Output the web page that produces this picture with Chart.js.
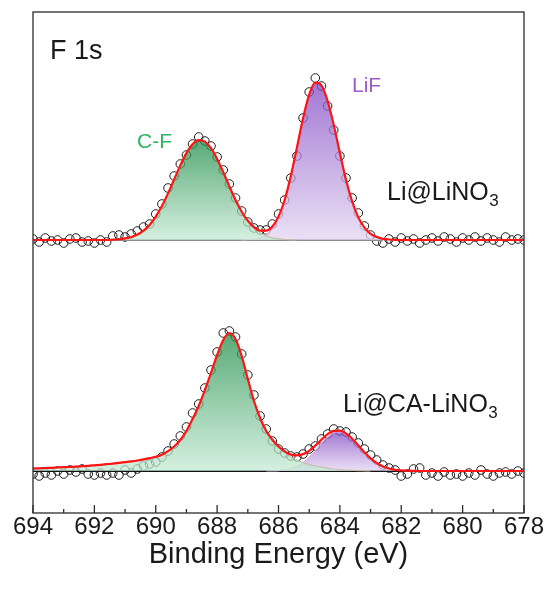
<!DOCTYPE html>
<html>
<head>
<meta charset="utf-8">
<title>F 1s XPS</title>
<script src="https://cdn.jsdelivr.net/npm/chart.js@4.4.1/dist/chart.umd.min.js"></script>
<style>
  html, body { margin: 0; padding: 0; background: #fff; }
  #wrap { width: 550px; height: 592px; position: relative; }
</style>
</head>
<body>
<div id="wrap"><canvas id="xps-chart"></canvas></div>
<script>
// Binding energy grid (eV), 0.2 eV step
const energy = [
  694, 693.8, 693.6, 693.4, 693.2, 693, 692.8, 692.6, 692.4, 692.2,
  692, 691.8, 691.6, 691.4, 691.2, 691, 690.8, 690.6, 690.4, 690.2,
  690, 689.8, 689.6, 689.4, 689.2, 689, 688.8, 688.6, 688.4, 688.2,
  688, 687.8, 687.6, 687.4, 687.2, 687, 686.8, 686.6, 686.4, 686.2,
  686, 685.8, 685.6, 685.4, 685.2, 685, 684.8, 684.6, 684.4, 684.2,
  684, 683.8, 683.6, 683.4, 683.2, 683, 682.8, 682.6, 682.4, 682.2,
  682, 681.8, 681.6, 681.4, 681.2, 681, 680.8, 680.6, 680.4, 680.2,
  680, 679.8, 679.6, 679.4, 679.2, 679, 678.8, 678.6, 678.4, 678.2,
  678
];

// Li@LiNO3 (upper spectrum), intensity above its background (a.u.)
const topRaw = [
  0.1, -0.2, 0.2, -0.1, 0.0, -0.3, 0.1, 0.2, -0.2, -0.1,
  -0.3, 0.0, -0.2, 0.4, 0.5, 0.3, 0.6, 0.9, 1.3, 1.6,
  2.6, 3.6, 5.2, 6.4, 7.6, 8.5, 9.6, 10.3, 9.9, 9.4,
  8.3, 7.0, 5.6, 4.2, 2.9, 1.8, 1.2, 1.0, 1.0, 1.6,
  2.6, 4.0, 6.2, 8.4, 12.2, 14.8, 16.2, 15.4, 13.4, 11.0,
  8.4, 6.2, 4.2, 2.7, 1.4, 0.5, -0.1, -0.3, 0.1, -0.2,
  0.2, -0.1, 0.1, -0.3, 0.0, 0.2, -0.1, 0.3, 0.1, -0.2,
  0.2, 0.0, 0.3, -0.1, 0.2, 0.0, -0.2, 0.3, 0.0, 0.1,
  0.0
];
const topFit = [
  0, 0, 0, 0, 0, 0, 0, 0, 0, 0,
  0, 0, 0, 0.04, 0.08, 0.16, 0.30, 0.54, 0.94, 1.51,
  2.33, 3.39, 4.66, 6.06, 7.46, 8.69, 9.58, 9.98, 9.84, 9.19,
  8.11, 6.77, 5.35, 4.00, 2.83, 1.92, 1.29, 0.94, 0.94, 1.36,
  2.34, 4.00, 6.37, 9.23, 12.17, 14.54, 15.73, 15.46, 13.90, 11.50,
  8.70, 6.00, 3.85, 2.26, 1.23, 0.62, 0.29, 0.12, 0.05, 0.02,
  0, 0, 0, 0, 0, 0, 0, 0, 0, 0,
  0, 0, 0, 0, 0, 0, 0, 0, 0, 0,
  0
];
// components start at the given energy and follow the grid
const topCfStart = 691.6;
const topCF = [
  0, 0.04, 0.08, 0.16, 0.30, 0.54, 0.94, 1.51, 2.33, 3.39,
  4.66, 6.06, 7.46, 8.69, 9.58, 9.98, 9.84, 9.19, 8.11, 6.77,
  5.35, 4.00, 2.83, 1.89, 1.20, 0.72, 0.41, 0.22, 0.11, 0.05,
  0.02, 0
];
const topLiFStart = 687.2;
const topLiF = [
  0, 0.03, 0.09, 0.22, 0.53, 1.14, 2.23, 3.95, 6.35, 9.23,
  12.17, 14.54, 15.73, 15.46, 13.90, 11.50, 8.70, 6.00, 3.85, 2.26,
  1.23, 0.62, 0.29, 0.12, 0.05, 0.02, 0
];
const topBgEnergy = [691.8, 682.6];
const topBgLevel = [0, 0];

// Li@CA-LiNO3 (lower spectrum)
const botRaw = [
  -0.3, -0.5, -0.2, -0.4, 0.0, -0.3, 0.1, -0.1, 0.2, -0.3,
  -0.4, -0.2, -0.4, -0.2, -0.4, 0.1, -0.2, 0.2, 0.5, 0.7,
  0.9, 1.4, 2.0, 2.7, 3.5, 4.4, 5.8, 6.7, 8.3, 10.1,
  11.9, 13.8, 14.0, 13.4, 11.7, 9.6, 7.6, 5.5, 4.2, 3.0,
  2.2, 1.8, 1.5, 1.4, 1.7, 2.2, 2.5, 3.2, 3.7, 4.2,
  4.0, 3.9, 3.4, 2.8, 2.2, 1.6, 1.1, 0.6, 0.3, 0.1,
  -0.5, -0.3, 0.2, 0.3, -0.4, -0.2, -0.5, -0.1, -0.4, -0.3,
  -0.5, -0.2, -0.4, 0.1, -0.3, -0.5, -0.2, -0.1, -0.3, 0.0,
  -0.2
];
const botFit = [
  0.25, 0.27, 0.30, 0.32, 0.35, 0.38, 0.41, 0.44, 0.48, 0.52,
  0.57, 0.62, 0.68, 0.74, 0.81, 0.88, 0.96, 1.05, 1.16, 1.28,
  1.42, 1.62, 1.98, 2.45, 3.1, 4.0, 5.2, 6.5, 8.1, 9.8,
  11.6, 13.1, 13.8, 13.2, 11.5, 9.2, 7.0, 5.3, 4.0, 3.12,
  2.45, 1.96, 1.64, 1.57, 1.69, 2.02, 2.54, 3.14, 3.68, 4.01,
  4.03, 3.75, 3.23, 2.56, 1.88, 1.27, 0.80, 0.46, 0.25, 0.12,
  0.06, 0.03, 0.01, 0, 0, 0, 0, 0, 0, 0,
  0, 0, 0, 0, 0, 0, 0, 0, 0, 0,
  0
];
const botCfStart = 694;
const botCF = [
  0.25, 0.27, 0.30, 0.32, 0.35, 0.38, 0.41, 0.44, 0.48, 0.52,
  0.57, 0.62, 0.68, 0.74, 0.81, 0.88, 0.96, 1.05, 1.16, 1.28,
  1.42, 1.62, 1.98, 2.45, 3.1, 4.0, 5.2, 6.5, 8.1, 9.8,
  11.6, 13.1, 13.8, 13.2, 11.5, 9.2, 7.0, 5.3, 4.0, 3.1,
  2.4, 1.85, 1.4, 1.1, 0.85, 0.65, 0.5, 0.38, 0.28, 0.2,
  0.14, 0.1, 0.07, 0.04, 0.02, 0
];
const botLiFStart = 686.4;
const botLiF = [
  0, 0.017, 0.046, 0.109, 0.236, 0.466, 0.839, 1.37, 2.04, 2.76,
  3.40, 3.81, 3.89, 3.65, 3.16, 2.52, 1.86, 1.27, 0.80, 0.46,
  0.25, 0.12, 0.056, 0.025, 0
];
const botBgEnergy = [694, 678];
const botBgLevel = [0, 0];

const xTicks = [694, 692, 690, 688, 686, 684, 682, 680, 678];

const FONT = "'Liberation Sans', Arial, sans-serif";
Chart.defaults.font.family = FONT;

function onGrid(values) {
  return values.map((v, i) => ({ x: energy[i], y: v }));
}
function fromStart(start, values) {
  const i0 = energy.indexOf(start);
  return values.map((v, i) => ({ x: energy[i0 + i], y: v }));
}
function pairs(xs, ys) {
  return xs.map((x, i) => ({ x: x, y: ys[i] }));
}

// vertical gradient from the component's peak down to its background
function peakGradient(axisId, values, topColor, bottomColor) {
  return (context) => {
    const chart = context.chart;
    if (!chart.chartArea) return topColor;
    const scale = chart.scales[axisId];
    const yPeak = scale.getPixelForValue(Math.max(...values));
    const yBase = scale.getPixelForValue(0);
    const g = chart.ctx.createLinearGradient(0, yPeak, 0, yBase);
    g.addColorStop(0, topColor);
    g.addColorStop(1, bottomColor);
    return g;
  };
}

function rawSet(values, axisId) {
  return {
    data: onGrid(values), yAxisID: axisId, order: 9,
    showLine: false, pointRadius: 4.3, pointBorderWidth: 1,
    pointBorderColor: '#1e1e1e', pointBackgroundColor: 'rgba(255,255,255,0)'
  };
}
function componentSet(points, values, axisId, top, bottom, edge) {
  return {
    data: points, yAxisID: axisId, order: 4,
    fill: 'origin', backgroundColor: peakGradient(axisId, values, top, bottom),
    borderColor: edge, borderWidth: 1.2, pointRadius: 0,
    cubicInterpolationMode: 'monotone'
  };
}
function lineSet(points, axisId, color, width, order) {
  return {
    data: points, yAxisID: axisId, order: order, fill: false,
    borderColor: color, borderWidth: width, pointRadius: 0,
    cubicInterpolationMode: 'monotone'
  };
}

const GREEN_TOP = 'rgba(30,140,70,0.74)';
const GREEN_BOT = 'rgba(196,234,212,0.72)';
const PURPLE_TOP = 'rgba(130,72,195,0.74)';
const PURPLE_BOT = 'rgba(226,212,242,0.72)';

function drawSub(ctx, main, sub, x, y, size) {
  ctx.font = size + 'px ' + FONT;
  ctx.fillText(main, x, y);
  const w = ctx.measureText(main).width;
  ctx.font = Math.round(size * 0.68) + 'px ' + FONT;
  ctx.fillText(sub, x + w + 0.5, y + size * 0.22);
}

const framePlugin = {
  id: 'framePlugin',
  afterDraw(chart) {
    const { ctx, chartArea: a, scales } = chart;
    const xs = scales.x;
    ctx.save();
    ctx.strokeStyle = '#2b2b2b';
    ctx.lineWidth = 1.3;
    xs.ticks.forEach(t => {
      const px = xs.getPixelForValue(t.value);
      const len = xTicks.includes(t.value) ? 8 : 4;
      ctx.beginPath();
      ctx.moveTo(px, a.bottom);
      ctx.lineTo(px, a.bottom - len);
      ctx.stroke();
    });
    ctx.strokeRect(a.left, a.top, a.right - a.left, a.bottom - a.top);

    ctx.textAlign = 'left';
    ctx.textBaseline = 'alphabetic';
    ctx.fillStyle = '#1a1a1a';
    ctx.font = '27px ' + FONT;
    ctx.fillText('F 1s', a.left + 17, a.top + 47);

    ctx.font = '21px ' + FONT;
    ctx.fillStyle = '#2fb463';
    ctx.fillText('C-F', a.left + 104, a.top + 136);
    ctx.fillStyle = '#9b5bc8';
    ctx.fillText('LiF', a.left + 319, a.top + 80);

    ctx.fillStyle = '#1a1a1a';
    drawSub(ctx, 'Li@LiNO', '3', a.left + 354, a.top + 188, 25);
    drawSub(ctx, 'Li@CA-LiNO', '3', a.left + 310, a.top + 400, 25);
    ctx.restore();
  }
};

new Chart(document.getElementById('xps-chart'), {
  type: 'line',
  data: {
    datasets: [
      rawSet(topRaw, 'yTop'),
      rawSet(botRaw, 'yBot'),
      lineSet(pairs(topBgEnergy, topBgLevel), 'yTop', '#8c8c8c', 2, 6),
      lineSet(pairs(botBgEnergy, botBgLevel), 'yBot', '#111111', 2, 6),
      componentSet(fromStart(topCfStart, topCF), topCF, 'yTop', GREEN_TOP, GREEN_BOT, 'rgba(196,186,164,0.9)'),
      componentSet(fromStart(topLiFStart, topLiF), topLiF, 'yTop', PURPLE_TOP, PURPLE_BOT, 'rgba(222,170,222,0.8)'),
      componentSet(fromStart(botCfStart, botCF), botCF, 'yBot', GREEN_TOP, GREEN_BOT, 'rgba(196,186,164,0.9)'),
      componentSet(fromStart(botLiFStart, botLiF), botLiF, 'yBot', PURPLE_TOP, PURPLE_BOT, 'rgba(222,170,222,0.8)'),
      lineSet(onGrid(topFit), 'yTop', '#ff1414', 2.2, 1),
      lineSet(onGrid(botFit), 'yBot', '#ff1414', 2.2, 1)
    ]
  },
  options: {
    responsive: true,
    maintainAspectRatio: false,
    animation: false,
    layout: { padding: { left: 33, right: 26, top: 12, bottom: 0 } },
    plugins: { legend: { display: false }, tooltip: { enabled: false } },
    scales: {
      x: {
        type: 'linear', reverse: true, min: 678, max: 694,
        grid: { display: false, drawTicks: false },
        border: { display: false },
        ticks: {
          stepSize: 1, autoSkip: false, maxRotation: 0, padding: 0,
          color: '#1a1a1a', font: { size: 24 },
          callback: v => (xTicks.includes(v) ? String(v) : '')
        },
        title: {
          display: true, text: 'Binding Energy (eV)', color: '#1a1a1a',
          font: { size: 29 }, padding: { top: 0, bottom: 20 }
        },
        afterFit: s => { s.height = 79; }
      },
      yTop: { type: 'linear', display: false, min: -27.3, max: 22.8 },
      yBot: { type: 'linear', display: false, min: -4.2, max: 45.9 }
    }
  },
  plugins: [framePlugin]
});
</script>
</body>
</html>
